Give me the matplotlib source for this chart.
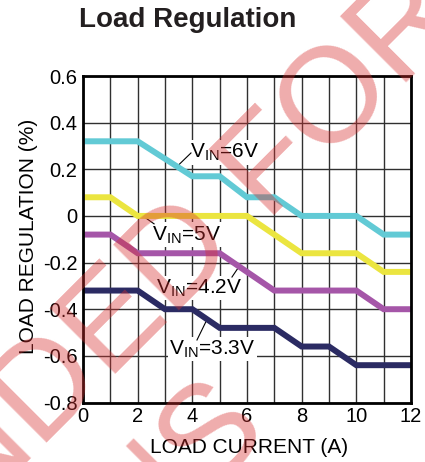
import matplotlib
matplotlib.use("Agg")
import matplotlib.pyplot as plt
import numpy as np

plt.rcParams["font.family"] = ["Liberation Sans", "DejaVu Sans"]
plt.rcParams["mathtext.fontset"] = "custom"
plt.rcParams["mathtext.rm"] = "Liberation Sans"
plt.rcParams["axes.unicode_minus"] = False

# load regulation (%) vs load current (A), one series per input voltage
current_6v = [0, 2, 4, 5, 6, 7, 8, 10, 11, 12]
reg_6v = [0.32, 0.32, 0.17, 0.17, 0.08, 0.08, 0.0, 0.0, -0.08, -0.08]

current_5v = [0, 1, 2, 6, 8, 10, 11, 12]
reg_5v = [0.08, 0.08, 0.0, 0.0, -0.16, -0.16, -0.24, -0.24]

current_42v = [0, 1, 2, 5, 7, 10, 11, 12]
reg_42v = [-0.08, -0.08, -0.16, -0.16, -0.32, -0.32, -0.40, -0.40]

current_33v = [0, 2, 3, 4, 5, 7, 8, 9, 10, 12]
reg_33v = [-0.32, -0.32, -0.40, -0.40, -0.48, -0.48, -0.56, -0.56, -0.64, -0.64]

x_ticks = [0, 2, 4, 6, 8, 10, 12]
y_ticks = [-0.8, -0.6, -0.4, -0.2, 0.0, 0.2, 0.4, 0.6]
y_tick_labels = ["-0.8", "-0.6", "-0.4", "-0.2", "0", "0.2", "0.4", "0.6"]

series = [
    (current_6v, reg_6v, "#62cad5", "6V"),
    (current_5v, reg_5v, "#ebe540", "5V"),
    (current_42v, reg_42v, "#a556a8", "4.2V"),
    (current_33v, reg_33v, "#2b2b63", "3.3V"),
]

# label placement: text anchor, leader start, leader end x on the curve
label_pos = {
    "6V": ((3.92, 0.249), None, 3.44, (3.95, 0.27)),
    "5V": ((2.52, -0.103), None, 2.19, (2.60, -0.034)),
    "4.2V": ((2.67, -0.331), (5.45, -0.262), 5.71, None),
    "3.3V": ((3.15, -0.592), (4.17, -0.532), 4.54, None),
}

fig = plt.figure(figsize=(4.25, 4.62), dpi=100)
ax = fig.add_axes([83 / 425, 1 - 402.5 / 462, 328 / 425, 326.5 / 462])

for xs, ys, color, name in series:
    ax.plot(xs, ys, color=color, lw=4.3, solid_capstyle="butt",
            solid_joinstyle="miter", zorder=4)

for xs, ys, color, name in series:
    (tx, ty), start, curve_x, end = label_pos[name]
    curve_y = np.interp(curve_x, xs, ys)
    if start is None:
        seg = [(curve_x, curve_y), end]
    else:
        seg = [start, (curve_x, curve_y)]
    ax.plot([p[0] for p in seg], [p[1] for p in seg], color="black",
            lw=0.8, zorder=3.5)
    ax.text(tx, ty, r"V$_{\mathregular{IN}}$=" + name, fontsize=15,
            ha="left", va="baseline", zorder=3,
            bbox=dict(fc="white", ec="none", pad=1.0))

ax.set_xlim(0, 12)
ax.set_ylim(-0.8, 0.6)
ax.set_xticks(x_ticks)
ax.set_xticklabels([str(t) for t in x_ticks])
ax.set_xticks(range(0, 13), minor=True)
ax.set_yticks(y_ticks)
ax.set_yticklabels(y_tick_labels)
ax.tick_params(which="both", length=0, labelsize=14.5)
ax.tick_params(axis="y", pad=4)
ax.tick_params(axis="x", pad=3)
ax.grid(which="both", color="#303030", lw=1.0, zorder=1)
ax.set_axisbelow(True)
for sp in ax.spines.values():
    sp.set_linewidth(2.0)
    sp.set_color("black")
    sp.set_zorder(5)

fig.text(188 / 425, 1 - 27 / 462, "Load Regulation", fontsize=20,
         fontweight="bold", ha="center", va="baseline", color="#231f20")
fig.text(249 / 425, 1 - 453 / 462, "LOAD CURRENT (A)", fontsize=15,
         ha="center", va="baseline")
fig.text(28 / 425, 1 - 236 / 462, "LOAD REGULATION (%)", fontsize=15,
         rotation=90, ha="center", va="center")

# datasheet stamp across the plot
stamp = dict(fontsize=97, color="#d83030", alpha=0.4, rotation=45,
             rotation_mode="anchor", ha="right", va="baseline", zorder=10)
fig.text(468 / 425, 1 - 21 / 462, "NOT RECOMMENDED FOR", **stamp)
fig.text(272 / 425, 1 - 433 / 462, "NEW DESIGNS", **stamp)

fig.savefig("out.png", dpi=100)
